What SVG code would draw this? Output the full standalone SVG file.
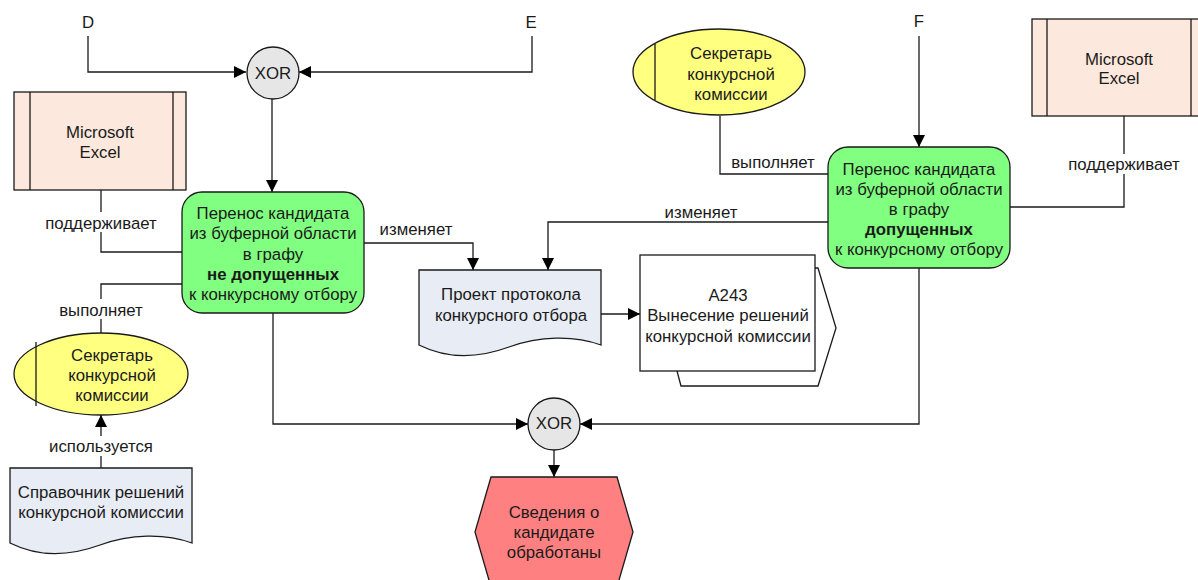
<svg xmlns="http://www.w3.org/2000/svg" width="1198" height="580" viewBox="0 0 1198 580">
<defs>
<style>
text{font-family:"Liberation Sans",Arial,sans-serif;font-size:16.8px;fill:#1a1a1a;text-anchor:middle}
.b{font-weight:bold}
.ln{fill:none;stroke:#1a1a1a;stroke-width:1.3}
.sh{stroke:#1a1a1a;stroke-width:1.3}
.lbl{fill:#fff;stroke:none}
</style>
<marker id="ar" viewBox="0 0 12 12" refX="12" refY="6" markerWidth="12" markerHeight="12" markerUnits="userSpaceOnUse" orient="auto">
<path d="M0,0 L12,6 L0,12 Z" fill="#000"/>
</marker>
</defs>
<rect width="1198" height="580" fill="#fff"/>

<g id="connectors">
<text x="88" y="28">D</text>
<path class="ln" d="M88,36 V72 H246" marker-end="url(#ar)"/>
<text x="531" y="28">E</text>
<path class="ln" d="M532,36 V72 H299" marker-end="url(#ar)"/>
<path class="ln" d="M272,99 V192" marker-end="url(#ar)"/>
<text x="919" y="27">F</text>
<path class="ln" d="M919,36 V147" marker-end="url(#ar)"/>

<path class="ln" d="M101,190 V252 H182"/>
<rect class="lbl" x="40" y="212" width="122" height="20"/>
<text x="101" y="229">поддерживает</text>

<path class="ln" d="M182,284 H101 V333"/>
<rect class="lbl" x="54" y="299" width="94" height="20"/>
<text x="101" y="316">выполняет</text>

<path class="ln" d="M101,468 V415" marker-end="url(#ar)"/>
<rect class="lbl" x="38" y="436" width="126" height="20"/>
<text x="101" y="452">используется</text>

<path class="ln" d="M364,243 H473 V270" marker-end="url(#ar)"/>
<text x="416" y="235">изменяет</text>

<path class="ln" d="M828,222 H548 V270" marker-end="url(#ar)"/>
<text x="701" y="218">изменяет</text>

<path class="ln" d="M601,314 H640" marker-end="url(#ar)"/>

<path class="ln" d="M720,116 V174 H828"/>
<text x="773" y="168">выполняет</text>

<path class="ln" d="M1124,116 V207 H1010"/>
<rect class="lbl" x="1064" y="154" width="122" height="20"/>
<text x="1124" y="170">поддерживает</text>

<path class="ln" d="M273,313 V424 H528" marker-end="url(#ar)"/>
<path class="ln" d="M919,268 V424 H580" marker-end="url(#ar)"/>
<path class="ln" d="M554,450 V477" marker-end="url(#ar)"/>
</g>

<g id="xor-top">
<circle class="sh" cx="273" cy="73" r="26" fill="#e6e6e6"/>
<text x="273" y="79">XOR</text>
</g>

<g id="excel-left">
<rect class="sh" x="14" y="92" width="172" height="98" fill="#fce8dc"/>
<line class="sh" x1="30" y1="92" x2="30" y2="190"/>
<line class="sh" x1="173" y1="92" x2="173" y2="190"/>
<text x="100" y="138">Microsoft</text>
<text x="100" y="158">Excel</text>
</g>

<g id="task-left">
<rect class="sh" x="182" y="192" width="182" height="121" rx="20" fill="#80ff80"/>
<text x="273" y="219">Перенос кандидата</text>
<text x="273" y="239">из буферной области</text>
<text x="273" y="260">в графу</text>
<text x="273" y="280" class="b">не допущенных</text>
<text x="273" y="300">к конкурсному отбору</text>
</g>

<g id="role-left">
<ellipse class="sh" cx="101" cy="374" rx="87" ry="41" fill="#ffff80"/>
<line class="sh" x1="36" y1="342" x2="36" y2="406"/>
<text x="112" y="361">Секретарь</text>
<text x="112" y="381">конкурсной</text>
<text x="112" y="401">комиссии</text>
</g>

<g id="doc-left">
<path class="sh" d="M10,468 H192 V543 C165,533 130,534 100,545 C70,556 40,558 10,543 Z" fill="#e8ecf4"/>
<text x="101" y="498">Справочник решений</text>
<text x="101" y="518">конкурсной комиссии</text>
</g>

<g id="doc-center">
<path class="sh" d="M419,270 H601 V345 C574,335 539,336 509,347 C479,358 449,360 419,345 Z" fill="#e8ecf4"/>
<text x="511" y="300">Проект протокола</text>
<text x="511" y="321">конкурсного отбора</text>
</g>

<g id="process-a243">
<polygon class="sh" points="677,268 818,268 836,328 818,386 681,386 677,371" fill="#fff"/>
<rect class="sh" x="640" y="255" width="175" height="116" fill="#fff"/>
<text x="728" y="301">A243</text>
<text x="728" y="321">Вынесение решений</text>
<text x="728" y="342">конкурсной комиссии</text>
</g>

<g id="role-right">
<ellipse class="sh" cx="719" cy="72" rx="86" ry="43" fill="#ffff80"/>
<line class="sh" x1="655" y1="44" x2="655" y2="100"/>
<text x="731" y="59">Секретарь</text>
<text x="731" y="80">конкурсной</text>
<text x="731" y="100">комиссии</text>
</g>

<g id="excel-right">
<rect class="sh" x="1032" y="19" width="172" height="97" fill="#fce8dc"/>
<line class="sh" x1="1047" y1="19" x2="1047" y2="116"/>
<line class="sh" x1="1191" y1="19" x2="1191" y2="116"/>
<text x="1119" y="65">Microsoft</text>
<text x="1119" y="84">Excel</text>
</g>

<g id="task-right">
<rect class="sh" x="828" y="147" width="182" height="121" rx="20" fill="#80ff80"/>
<text x="919" y="175">Перенос кандидата</text>
<text x="919" y="195">из буферной области</text>
<text x="919" y="215">в графу</text>
<text x="919" y="235" class="b">допущенных</text>
<text x="919" y="255">к конкурсному отбору</text>
</g>

<g id="xor-bottom">
<circle class="sh" cx="554" cy="424" r="26" fill="#e6e6e6"/>
<text x="554" y="429">XOR</text>
</g>

<g id="event-end">
<polygon class="sh" points="491,477 617,477 633,532 617,587 491,587 475,532" fill="#ff8080"/>
<text x="554" y="518">Сведения о</text>
<text x="554" y="538">кандидате</text>
<text x="554" y="558">обработаны</text>
</g>
</svg>
